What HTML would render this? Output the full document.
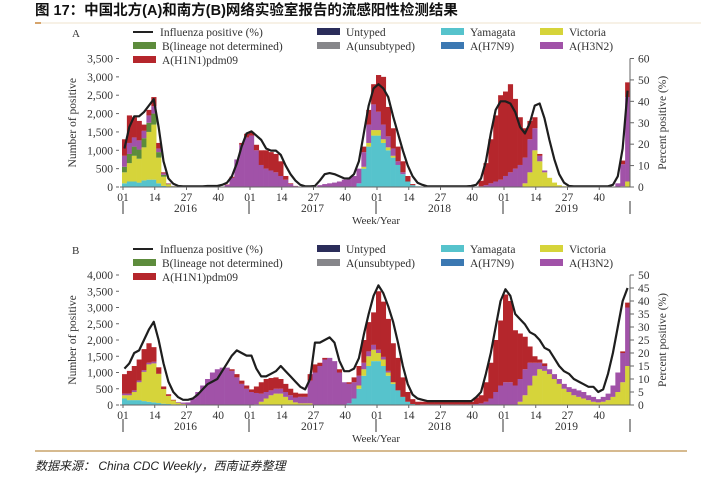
<!DOCTYPE html>
<html><head><meta charset="utf-8"><style>
body{margin:0;background:#fff;width:701px;height:482px;overflow:hidden}
svg text{font-family:"Liberation Serif","Noto Serif CJK SC",serif}
</style></head><body>
<svg id="c" width="701" height="482" viewBox="0 0 701 482">
<text x="35" y="15" font-size="14.5" font-weight="bold" fill="#111" style="font-family:'Liberation Sans','Noto Sans CJK SC',sans-serif">图 17：中国北方(A)和南方(B)网络实验室报告的流感阳性检测结果</text>
<line x1="35" y1="23" x2="701" y2="23" stroke="#efe3cc" stroke-width="1"/>
<line x1="35" y1="23" x2="41" y2="23" stroke="#c8863a" stroke-width="1.5"/>
<line x1="35" y1="451" x2="687" y2="451" stroke="#c9a36a" stroke-width="1.5"/>
<text x="35" y="470" font-size="12" font-style="italic" fill="#222" style="font-family:'Liberation Sans','Noto Sans CJK SC',sans-serif">数据来源：  China CDC Weekly，西南证券整理</text>
</svg>
<script>
// ---- Chart A data (2-week bins, 2016-2019) ----
const binsPerYear = 26;
const years = ["2016","2017","2018","2019"];
const weekTicks = ["01","14","27","40"];
const A_yam = [100,150,150,120,180,200,200,100,30,10,5,0,0,0,0,0,0,0,0,0,0,0,0,0,0,0,
 0,0,0,0,0,0,0,0,0,0,0,0,0,0,0,0,0,0,0,0,0,0,100,500,1100,1400,
 1400,1200,1000,800,600,350,150,50,20,0,0,0,0,0,0,0,0,0,0,0,0,0,0,0,0,0,
 0,0,0,0,0,0,0,0,0,0,0,0,0,0,0,0,0,0,0,0,0,0,0,0,0,0];
const A_vic = [300,500,700,650,900,1300,1500,700,250,60,15,0,0,0,0,0,0,0,0,0,0,0,0,0,0,0,
 0,0,0,0,0,0,0,0,0,0,0,0,0,0,0,0,0,0,0,0,0,0,0,50,100,150,
 150,100,80,50,0,0,0,0,0,0,0,0,0,0,0,0,0,0,0,0,0,0,0,0,0,0,
 0,0,0,0,100,400,1000,700,400,250,120,50,20,0,0,0,0,0,0,0,0,0,0,0,20,150];
const A_bln = [150,250,250,250,250,250,300,150,50,10,5,0,0,0,0,0,0,0,0,0,0,0,0,0,0,0,
 0,0,0,0,0,0,0,0,0,0,0,0,0,0,0,0,0,0,0,0,0,0,0,0,0,0,
 0,0,0,0,0,0,0,0,0,0,0,0,0,0,0,0,0,0,0,0,0,0,0,0,0,0,
 0,0,0,0,0,0,0,0,0,0,0,0,0,0,0,0,0,0,0,0,0,0,0,0,0,0];
const A_h3 = [300,300,250,250,200,200,200,100,40,10,5,5,5,5,5,5,5,5,5,5,10,60,250,750,1150,1350,
 1400,1000,600,500,450,400,300,200,80,25,10,10,10,10,50,80,100,120,150,200,250,300,400,400,500,700,
 500,400,300,200,100,50,0,0,0,0,0,0,0,0,0,0,0,0,0,0,0,20,50,100,150,200,
 300,400,500,600,700,900,600,150,50,0,0,0,0,0,0,0,0,0,0,0,0,0,0,100,600,2300];
const A_h1 = [450,750,550,530,170,150,250,150,30,10,0,0,0,0,0,0,0,0,0,0,0,10,30,0,50,100,
 100,150,400,500,500,500,400,100,20,5,0,0,0,0,0,0,0,0,0,0,0,0,0,150,400,550,
 1000,1300,800,550,400,300,150,30,0,0,0,0,0,0,0,0,0,0,0,0,0,150,600,1200,1800,2300,
 2300,2400,1900,1300,800,500,300,50,0,0,0,0,0,0,0,0,0,0,0,0,0,0,0,0,100,400];
const A_pct = [18,28,33,33,35,38,41,28,12,4,1.5,0.5,0.3,0.3,0.3,0.3,0.3,0.5,0.5,0.5,1,2,5,11,19,25,
 26,24,22,18,17,17,15,10,6,3,1,0.3,0.3,0.5,3,6,6.5,6,5,4,4,6,12,25,38,46,
 48,46,42,33,25,17,10,5,2,1,0.3,0.3,0.3,0.3,0.3,0.3,0.3,0.3,0.3,0.5,1,4,12,25,36,40,
 40,39,35,28,25,30,38,39,32,22,13,6,2,0.5,0.3,0.3,0.3,0.3,0.3,0.3,0.3,0.3,1,5,18,45];
const A_leftTicks = ["0","500","1,000","1,500","2,000","2,500","3,000","3,500"];
const A_rightTicks = ["0","10","20","30","40","50","60"];
// ---- Chart B data ----
const B_yam = [200,150,150,150,120,100,80,60,40,30,20,10,5,0,0,0,0,0,0,0,0,0,0,0,0,0,
 0,0,0,0,0,0,0,0,0,0,0,0,0,0,0,0,0,0,0,0,50,200,500,900,1200,1350,
 1350,1200,900,650,450,250,100,30,0,0,0,0,0,0,0,0,0,0,0,0,0,0,0,0,0,0,
 0,0,0,0,0,0,0,0,0,0,0,0,0,0,0,0,0,0,0,0,0,0,0,0,0,0];
const B_vic = [100,150,250,550,900,1150,1200,900,450,250,120,60,30,0,0,0,0,0,0,0,0,0,0,0,0,0,
 0,20,100,200,300,350,350,250,150,80,50,50,50,0,0,0,0,0,0,0,0,0,100,200,300,350,
 250,200,100,50,0,0,0,0,0,0,0,0,0,0,0,0,0,0,0,0,0,0,0,0,0,0,
 0,0,0,100,300,600,900,1100,1050,950,800,650,500,400,300,250,200,150,100,80,100,150,250,400,700,1200];
const B_h3 = [50,50,50,50,50,50,50,0,0,0,0,20,40,80,200,400,600,800,1000,1100,1150,1150,1050,850,650,500,
 400,350,250,200,150,150,150,150,150,150,200,200,700,1000,1200,1400,1450,1350,1000,700,600,500,300,200,150,150,
 100,80,50,0,0,0,0,0,0,20,20,20,20,20,20,20,20,20,20,20,30,50,100,200,400,600,
 700,700,600,700,800,700,400,200,150,150,150,150,150,150,200,200,200,150,150,100,150,200,350,600,900,1800];
const B_h1 = [600,700,750,650,650,600,450,200,80,50,20,0,0,0,0,0,0,0,0,0,0,0,50,100,100,100,
 80,200,350,400,380,350,300,250,200,150,100,100,200,250,100,50,0,0,100,0,50,150,300,700,900,1000,
 1800,1700,1600,1200,1000,600,300,150,100,80,80,80,80,80,80,80,80,80,80,80,200,250,600,1100,1600,2000,
 2700,2500,1700,1400,1000,500,200,100,80,0,0,0,0,0,0,0,0,0,0,0,0,0,0,0,50,150];
const B_pct = [14,16,20,21,25,29,32,25,16,9,5,3,2,2,2.5,4,6,8,9,10,13,16,19,21,20,19,
 19,14,11,11,12,13,15,13,11,9,7,6,10,24,24,25,26,24,17,13,13,14,18,27,35,42,
 46,43,38,32,24,15,8,4,2.5,2,1.5,1.5,1.5,1.5,1.5,1.5,1.5,1.5,1.5,1.5,3,5,12,20,30,40,
 44.5,42,35,33,31,28,27,25,22,21,18,15,13,12,10,9,8,7,7,5,6,12,20,30,40,45];
const B_leftTicks = ["0","500","1,000","1,500","2,000","2,500","3,000","3,500","4,000"];
const B_rightTicks = ["0","5","10","15","20","25","30","35","40","45","50"];

const NS = "http://www.w3.org/2000/svg";
const svg = document.getElementById("c");
const COL = {yam:"#56c3cc",vic:"#d6d43a",bln:"#5d8c3c",h3:"#a152a8",h1:"#b5262c",untyped:"#2b2d5a",unsub:"#86868a",h7:"#3b78b2"};
const XL = 122, XR = 630;
function mk(tag, attrs, parent){const e=document.createElementNS(NS,tag);for(const k in attrs)e.setAttribute(k,attrs[k]);(parent||svg).appendChild(e);return e;}

function drawChart(o){
  const g = mk("g",{});
  
  
  const nb = o.series[0].data.length;
  const bw = (XR-XL)/nb;
  const xOf = i => XL + i*bw;
  const yL = v => o.y0 - v/o.maxL*(o.y0-o.yTop);
  const yR = v => o.y0 - v/o.maxR*(o.y0-o.yTop);
  for(let i=0;i<nb;i++){
    let acc=0;
    for(const s of o.series){
      const v=s.data[i]; if(v<=0) continue;
      const r = mk("rect",{x:xOf(i).toFixed(2),y:yL(acc+v).toFixed(2),width:(bw+0.3).toFixed(2),height:(yL(acc)-yL(acc+v)).toFixed(2),fill:s.color},g);
      
      
      acc+=v;
    }
  }
  let d="";
  o.pct.forEach((v,i)=>{d+=(i?"L":"M")+(xOf(i)+bw/2).toFixed(2)+","+yR(v).toFixed(2);});
  const ln = mk("path",{d:d,fill:"none",stroke:"#1e1e1e","stroke-width":2.2,"stroke-linejoin":"round"},g);
  
  
  const ax = mk("line",{x1:XL-2,y1:o.y0,x2:XR,y2:o.y0,stroke:"#666","stroke-width":1},g);
  
  
  const wpx = (XR-XL)/(years.length*52);
  years.forEach((yr,yi)=>{
    weekTicks.forEach(w=>{
      const x = XL + (yi*52 + (+w) - 1)*wpx + 1;
      mk("line",{x1:x,y1:o.y0,x2:x,y2:o.y0+3,stroke:"#666"},g);
      const t = mk("text",{x:x,y:o.y0+14,"font-size":11.5,fill:"#333","text-anchor":"middle"},g);
      t.textContent=w;
      
      
    });
    const yt = mk("text",{x:XL+(yi*52+26)*wpx,y:o.y0+25,"font-size":11.5,fill:"#333","text-anchor":"middle"},g);
    yt.textContent=yr;
    
    
  });
  for(let k=0;k<=years.length;k++){
    const x = XL + k*52*wpx + (k==0?1:0);
    mk("line",{x1:x,y1:o.y0+14,x2:x,y2:o.y0+27,stroke:"#555","stroke-width":1.2},g);
  }
  const wy = mk("text",{x:376,y:o.y0+37,"font-size":11,fill:"#333","text-anchor":"middle"},g);
  wy.textContent="Week/Year";
  
  
  o.leftTicks.forEach((lab,k)=>{
    const y = o.y0 - k*(o.y0-o.yTop)/(o.leftTicks.length-1);
    mk("line",{x1:116,y1:y,x2:119,y2:y,stroke:"#666"},g);
    const t = mk("text",{x:113,y:y+4,"font-size":11.5,fill:"#333","text-anchor":"end"},g);
    t.textContent=lab;
    
    
  });
  mk("line",{x1:XR,y1:o.y0,x2:XR,y2:o.yTop,stroke:"#666"},g);
  o.rightTicks.forEach((lab,k)=>{
    const y = o.y0 - k*(o.y0-o.yTop)/(o.rightTicks.length-1);
    mk("line",{x1:XR,y1:y,x2:XR+4,y2:y,stroke:"#666"},g);
    const t = mk("text",{x:XR+8,y:y+4,"font-size":11.5,fill:"#333"},g);
    t.textContent=lab;
    
    
  });
  const cy=(o.y0+o.yTop)/2;
  const lt = mk("text",{x:0,y:0,"font-size":11.5,fill:"#333","text-anchor":"middle",transform:`translate(76,${cy}) rotate(-90)`},g);
  lt.textContent="Number of positive";
  
  
  const rt = mk("text",{x:0,y:0,"font-size":11.5,fill:"#333","text-anchor":"middle",transform:`translate(666,${cy}) rotate(-90)`},g);
  rt.textContent="Percent positive (%)";
  
  
  const pl = mk("text",{x:72,y:o.legY+5,"font-size":11,fill:"#333"},g);
  pl.textContent=o.letter;
  
  
  const L = [
    [0,133,"line","Influenza positive (%)"],[0,317,COL.untyped,"Untyped"],[0,441,COL.yam,"Yamagata"],[0,540,COL.vic,"Victoria"],
    [1,133,COL.bln,"B(lineage not determined)"],[1,317,COL.unsub,"A(unsubtyped)"],[1,441,COL.h7,"A(H7N9)"],[1,540,COL.h3,"A(H3N2)"],
    [2,133,COL.h1,"A(H1N1)pdm09"]];
  L.forEach(([row,x,c,lab])=>{
    const y = o.legY + row*14;
    const eg = mk("g",{},g);
    
    
    if(c==="line") mk("line",{x1:x,y1:y,x2:x+20,y2:y,stroke:"#222","stroke-width":2},eg);
    else mk("rect",{x:x,y:y-4,width:23,height:7,fill:c},eg);
    const t = mk("text",{x:(c==="line"?x+27:x+29),y:y+4,"font-size":11.5,fill:"#333"},eg);
    t.textContent=lab;
  });
}

drawChart({name:"chart-north-a",letter:"A",y0:187,yTop:58.5,maxL:3500,maxR:60,legY:32,
  series:[{key:"yamagata",color:COL.yam,data:A_yam},{key:"victoria",color:COL.vic,data:A_vic},{key:"b-lineage",color:COL.bln,data:A_bln},{key:"h3n2",color:COL.h3,data:A_h3},{key:"h1n1",color:COL.h1,data:A_h1}],
  pct:A_pct,leftTicks:A_leftTicks,rightTicks:A_rightTicks});
drawChart({name:"chart-south-b",letter:"B",y0:405,yTop:275,maxL:4000,maxR:50,legY:249,
  series:[{key:"yamagata",color:COL.yam,data:B_yam},{key:"victoria",color:COL.vic,data:B_vic},{key:"h3n2",color:COL.h3,data:B_h3},{key:"h1n1",color:COL.h1,data:B_h1}],
  pct:B_pct,leftTicks:B_leftTicks,rightTicks:B_rightTicks});
</script>
</body></html>
